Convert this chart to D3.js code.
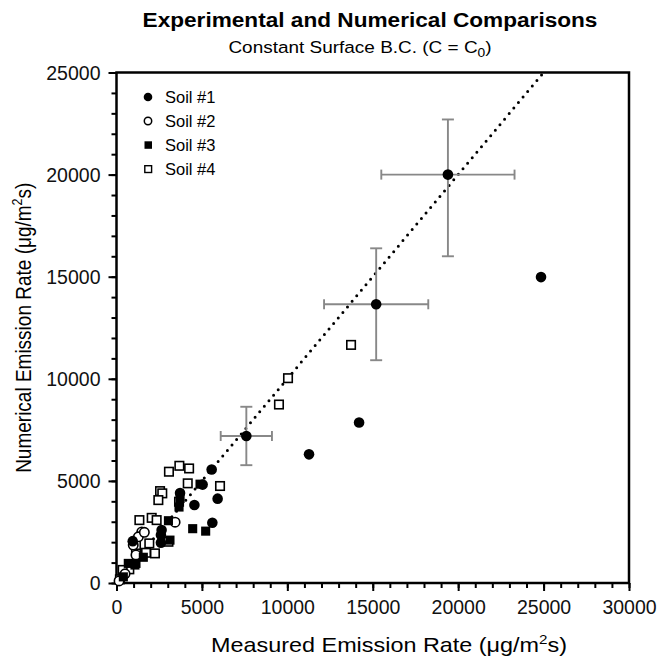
<!DOCTYPE html>
<html>
<head>
<meta charset="utf-8">
<script src="https://cdn.jsdelivr.net/npm/d3@7"></script>
<style>
  body { margin: 0; background: #fff; }
  svg { font-family: "Liberation Sans", Arial, sans-serif; }
</style>
</head>
<body>
<div id="chart"></div>
<script>
// data (measured, numerical)
var soil1 = [[19400,20000],[15200,13650],[7600,7200],[24850,14980],[14200,7860],[11270,6300],
             [5570,5560],[5040,4820],[5920,4130],[3720,4410],[4560,3820],[5610,2950],
             [2640,2590],[2600,2350],[2600,1970],[950,2050]];
// error bars for the first three Soil #1 points: x err, y err below, y err above
var soil1ErrX = [3900, 3050, 1500];
var soil1ErrYLo = [4000, 2740, 1430];
var soil1ErrYHi = [2700, 2740, 1430];
var soil2 = [[3430,2980],[1480,2500],[1280,2260],[980,1860],[1140,1370],[1630,2480],[150,100],[500,450]];
var soil3 = [[3040,3050],[3130,2100],[1570,1260],[1140,960],[690,960],[4460,2660],[5220,2540],
             [3720,4140],[3660,3720],[4890,4840],[1080,880],[400,300]];
var soil4 = [[3070,5450],[3680,5740],[4250,5610],[4170,4880],[6060,4750],[2550,4500],[2680,4390],
             [2450,4060],[3660,3980],[1340,3080],[2060,3190],[2350,3080],[1920,1940],[3040,2020],
             [1730,1480],[2250,1450],[1140,1580],[1140,1860],[750,670],[200,180],[360,640],
             [9510,8740],[10040,10030],[13730,11660]];
var xTicks = [0,5000,10000,15000,20000,25000,30000];
var yTicks = [0,5000,10000,15000,20000,25000];
var legendLabels = ["Soil #1","Soil #2","Soil #3","Soil #4"];

var W = 657, H = 657;
var m = {left:116.5, right:28, top:72.5, bottom:74};
var fontFam = '"Liberation Sans", Arial, sans-serif';

var svg = d3.select('#chart').append('svg')
    .attr('width', W).attr('height', H);

var x = d3.scaleLinear().domain([0,30000]).range([m.left, W-m.right]);
var y = d3.scaleLinear().domain([0,25000]).range([H-m.bottom, m.top]);

// title (text in the source is a bit wider than the font, stretch a little)
svg.append('g').attr('transform','translate(370,27) scale(1.16,1)')
  .append('text').attr('text-anchor','middle')
    .attr('font-size', 19.5).attr('font-weight','bold').text('Experimental and Numerical Comparisons');
var sub = svg.append('g').attr('transform','translate(360,53) scale(1.15,1)')
  .append('text').attr('text-anchor','middle').attr('font-size', 16.5);
sub.append('tspan').text('Constant Surface B.C. (C = C');
sub.append('tspan').attr('font-size', 12).attr('dy', 4).text('0');
sub.append('tspan').attr('dy', -4).text(')');

// minor ticks
svg.append('g').attr('transform','translate(0,'+y(0)+')')
    .call(d3.axisBottom(x).tickValues(d3.range(0, 30001, 1000)).tickSize(5).tickFormat(''))
    .call(function(g){ g.select('.domain').remove(); g.selectAll('line').attr('stroke-width',2); });
svg.append('g').attr('transform','translate('+x(0)+',0)')
    .call(d3.axisLeft(y).tickValues(d3.range(0,25001,1000)).tickSize(5).tickFormat(''))
    .call(function(g){ g.select('.domain').remove(); g.selectAll('line').attr('stroke-width',2); });

// major ticks + labels
var xa = svg.append('g').attr('transform','translate(0,'+y(0)+')')
    .call(d3.axisBottom(x).tickValues(xTicks).tickSize(8).tickPadding(9).tickFormat(d3.format('d')));
var ya = svg.append('g').attr('transform','translate('+x(0)+',0)')
    .call(d3.axisLeft(y).tickValues(yTicks).tickSize(8).tickPadding(8).tickFormat(d3.format('d')));
[xa, ya].forEach(function(g){
  g.select('.domain').remove();
  g.selectAll('line').attr('stroke-width',2);
  g.selectAll('text').attr('font-size',19.5).attr('fill','#111').style('font-family', fontFam);
});
ya.selectAll('text').attr('dy','0.35em');

// frame
svg.append('rect').attr('x', x(0)).attr('y', y(25000))
    .attr('width', x(30000)-x(0)).attr('height', y(0)-y(25000))
    .attr('fill','none').attr('stroke','#000').attr('stroke-width',2.5);

// axis titles
var xt = svg.append('g').attr('transform','translate(389,652) scale(1.17,1)')
  .append('text').attr('text-anchor','middle').attr('font-size',20);
xt.append('tspan').text('Measured Emission Rate (\u03bcg/m');
xt.append('tspan').attr('font-size',13).attr('dy',-8).text('2');
xt.append('tspan').attr('dy',8).text('s)');
var yt = svg.append('g').attr('transform','translate(31,'+((y(0)+y(25000))/2)+') scale(1.15,1) rotate(-90)')
  .append('text').attr('text-anchor','middle').attr('font-size',19);
yt.append('tspan').text('Numerical Emission Rate (\u03bcg/m');
yt.append('tspan').attr('font-size',12.5).attr('dy',-7.5).text('2');
yt.append('tspan').attr('dy',7.5).text('s)');

// 1:1 dotted line
svg.append('path')
    .datum([[0,0],[25000,25000]])
    .attr('d', d3.line().x(function(d){return x(d[0]);}).y(function(d){return y(d[1]);}))
    .attr('stroke','#000').attr('stroke-width',3).attr('stroke-linecap','round')
    .attr('stroke-dasharray','0 7.2').attr('fill','none');

// error bars
var eb = svg.append('g').attr('stroke','#888').attr('stroke-width',1.9).attr('fill','none');
soil1ErrX.forEach(function(ex, i){
  var p = soil1[i], cx = x(p[0]), cy = y(p[1]);
  var x0 = x(p[0]-ex), x1 = x(p[0]+ex), y0 = y(p[1]-soil1ErrYLo[i]), y1 = y(p[1]+soil1ErrYHi[i]);
  eb.append('line').attr('x1',x0).attr('x2',x1).attr('y1',cy).attr('y2',cy);
  eb.append('line').attr('x1',cx).attr('x2',cx).attr('y1',y0).attr('y2',y1);
  eb.append('line').attr('x1',x0).attr('x2',x0).attr('y1',cy-5).attr('y2',cy+5);
  eb.append('line').attr('x1',x1).attr('x2',x1).attr('y1',cy-5).attr('y2',cy+5);
  eb.append('line').attr('x1',cx-6).attr('x2',cx+6).attr('y1',y0).attr('y2',y0);
  eb.append('line').attr('x1',cx-6).attr('x2',cx+6).attr('y1',y1).attr('y2',y1);
});

// markers
function circles(data, filled, r) {
  svg.append('g').selectAll('circle').data(data).join('circle')
    .attr('cx', function(d){return x(d[0]);}).attr('cy', function(d){return y(d[1]);})
    .attr('r', r).attr('fill', filled ? '#000' : '#fff')
    .attr('stroke','#000').attr('stroke-width', filled ? 0 : 1.6);
}
function squares(data, filled, s) {
  svg.append('g').selectAll('rect').data(data).join('rect')
    .attr('x', function(d){return x(d[0])-s/2;}).attr('y', function(d){return y(d[1])-s/2;})
    .attr('width', s).attr('height', s).attr('fill', filled ? '#000' : '#fff')
    .attr('stroke','#000').attr('stroke-width', 1.6);
}
squares(soil4, false, 8.5);
circles(soil2, false, 4.7);
squares(soil3, true, 7.5);
circles(soil1, true, 5.3);

// legend
var lg = svg.append('g');
var ly = [97, 121, 145, 169];
lg.append('circle').attr('cx',148).attr('cy',ly[0]).attr('r',4.3).attr('fill','#000');
lg.append('circle').attr('cx',148).attr('cy',ly[1]).attr('r',3.7).attr('fill','#fff').attr('stroke','#000').attr('stroke-width',1.5);
lg.append('rect').attr('x',144.5).attr('y',ly[2]-3.7).attr('width',7.5).attr('height',7.5).attr('fill','#000');
lg.append('rect').attr('x',144.8).attr('y',ly[3]-3.3).attr('width',6.8).attr('height',6.8).attr('fill','#fff').attr('stroke','#000').attr('stroke-width',1.4);
lg.selectAll('text').data(legendLabels).join('text')
    .attr('x',165).attr('y',function(d,i){return ly[i];}).attr('dy','0.35em')
    .attr('font-size',16.5).text(function(d){return d;});
</script>
</body>
</html>
